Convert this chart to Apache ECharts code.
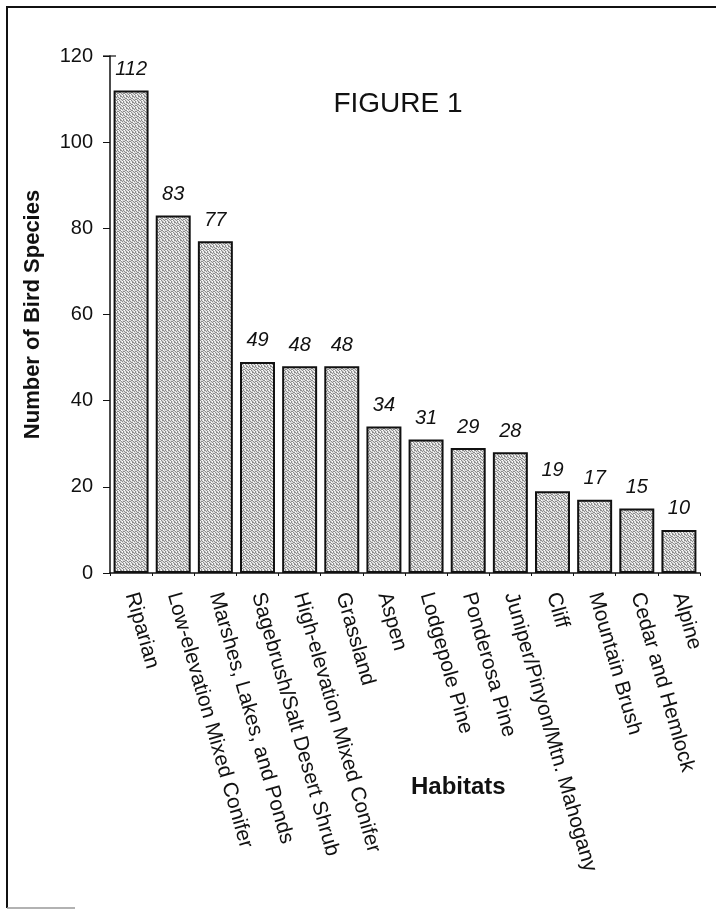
<!DOCTYPE html>
<html><head><meta charset="utf-8">
<script src="https://cdn.jsdelivr.net/npm/echarts@6/dist/echarts.min.js"></script>
<style>html,body{margin:0;padding:0;background:#fff}#c{width:716px;height:915px}</style>
</head><body><div id="c"></div>
<script>
const categories = ["Riparian","Low-elevation Mixed Conifer","Marshes, Lakes, and Ponds","Sagebrush/Salt Desert Shrub","High-elevation Mixed Conifer","Grassland","Aspen","Lodgepole Pine","Ponderosa Pine","Juniper/Pinyon/Mtn. Mahogany","Cliff","Mountain Brush","Cedar and Hemlock","Alpine"];
const speciesCounts = [112,83,77,49,48,48,34,31,29,28,19,17,15,10];
const yTicks = {min:0, max:120, interval:20};

// stipple pattern for bar fill (fixed dither, style only)
const pc = document.createElement('canvas');
pc.width = 6; pc.height = 6;
const pctx = pc.getContext('2d');
pctx.fillStyle = '#dcdcdc'; pctx.fillRect(0,0,6,6);
pctx.fillStyle = '#8c8c8c';
[[0,0],[1,0],[3,0],[4,1],[2,1],[0,2],[5,2],[1,3],[3,3],[4,3],[2,4],[5,4],[0,5],[3,5]].forEach(p=>pctx.fillRect(p[0],p[1],1,1));
pctx.fillStyle = '#ffffff';
[[5,0],[1,2],[4,4],[2,5]].forEach(p=>pctx.fillRect(p[0],p[1],1,1));

const FONT = 'Liberation Sans';
const chart = echarts.init(document.getElementById('c'), null, {renderer:'canvas'});
chart.setOption({
  backgroundColor:'#fff',
  animation:false,
  grid:{left:110, right:16, top:56, bottom:342},
  title:{text:'FIGURE 1', left:393, top:85, textAlign:'center',
    textStyle:{fontFamily:FONT, fontSize:28, fontWeight:'normal', color:'#111'}},
  xAxis:{type:'category', data:categories,
    axisLine:{lineStyle:{color:'#111', width:1.5}},
    axisTick:{show:true, length:3, lineStyle:{color:'#111'}},
    axisLabel:{rotate:-74, margin:20, interval:0, fontFamily:FONT, fontSize:21, color:'#111'}
  },
  yAxis:{type:'value', min:yTicks.min, max:yTicks.max, interval:yTicks.interval,
    axisLine:{show:true, lineStyle:{color:'#111', width:1.5}},
    axisTick:{show:true, length:7, lineStyle:{color:'#111'}},
    splitLine:{show:false},
    axisLabel:{margin:17, fontFamily:FONT, fontSize:20, color:'#111'},
    name:'Number of Bird Species', nameLocation:'middle', nameGap:66, nameRotate:90,
    nameTextStyle:{fontFamily:FONT, fontSize:22, fontWeight:'bold', color:'#111'}
  },
  series:[{type:'bar', data:speciesCounts, barCategoryGap:'17%',
    itemStyle:{color:{image:pc, repeat:'repeat'}, borderColor:'#111', borderWidth:2},
    label:{show:true, position:'top', distance:11, fontFamily:FONT, fontStyle:'italic', fontSize:20, color:'#111'}
  }],
  graphic:[
    {type:'text', left:411, top:775, style:{text:'Habitats', fontFamily:FONT, fontSize:24, fontWeight:'bold', fill:'#111'}},
    {type:'line', shape:{x1:103,y1:56,x2:116,y2:56}, style:{stroke:'#111', lineWidth:1.2}},
    {type:'polyline', shape:{points:[[7,908],[7,7],[716,7]]}, style:{stroke:'#111', lineWidth:2, fill:null}},
    {type:'line', shape:{x1:7,y1:908,x2:75,y2:908}, style:{stroke:'#999', lineWidth:1.5}}
  ]
});
</script></body></html>
